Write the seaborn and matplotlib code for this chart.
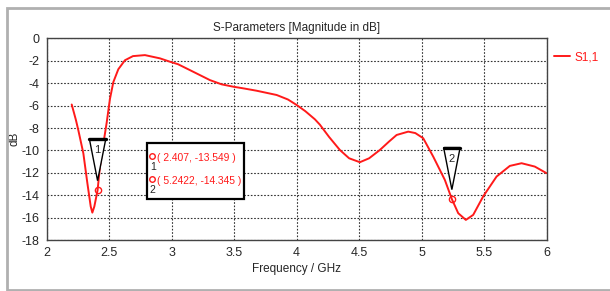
import numpy as np
import pandas as pd
import matplotlib
matplotlib.use("Agg")
import matplotlib.pyplot as plt
import seaborn as sns
from matplotlib.patches import Rectangle, Polygon

# ===============================
# DATA
# ===============================
freq = [2.200, 2.234, 2.253, 2.293, 2.325, 2.352, 2.365, 2.381, 2.407, 2.426,
        2.458, 2.480, 2.506, 2.533, 2.573, 2.626, 2.690, 2.786, 2.906, 2.986,
        3.050, 3.146, 3.306, 3.400, 3.493, 3.580, 3.680, 3.840, 3.930, 4.000,
        4.070, 4.146, 4.186, 4.260, 4.346, 4.420, 4.506, 4.580, 4.666, 4.740,
        4.800, 4.893, 4.950, 5.013, 5.093, 5.186, 5.2422, 5.293, 5.354, 5.413,
        5.493, 5.600, 5.706, 5.800, 5.906, 6.000]
s11 = [-5.90, -7.30, -8.20, -10.25, -12.90, -15.00, -15.55, -15.00, -13.549, -11.45,
       -9.06, -7.50, -5.40, -3.90, -2.75, -1.95, -1.58, -1.49, -1.78, -2.08,
       -2.30, -2.83, -3.72, -4.10, -4.31, -4.47, -4.67, -5.05, -5.45, -5.94,
       -6.50, -7.22, -7.70, -8.80, -9.96, -10.70, -11.05, -10.70, -9.96, -9.20,
       -8.62, -8.32, -8.45, -8.91, -10.55, -12.63, -14.345, -15.60, -16.20, -15.75,
       -14.10, -12.33, -11.38, -11.14, -11.44, -12.03]

marker_ids = ["1", "2"]
marker_x = [2.407, 5.2422]
marker_y = [-13.549, -14.345]

xticks = [2, 2.5, 3, 3.5, 4, 4.5, 5, 5.5, 6]
yticks = [0, -2, -4, -6, -8, -10, -12, -14, -16, -18]

df = pd.DataFrame({"Frequency": freq, "S1,1": s11})

# ===============================
# PLOT
# ===============================
sns.set_style("white")
plt.rcParams["font.family"] = ["Liberation Sans", "DejaVu Sans"]

fig = plt.figure(figsize=(6.1, 2.91), dpi=100)
ax = fig.add_axes([0.0766, 0.175, 0.8194, 0.693])

sns.lineplot(data=df, x="Frequency", y="S1,1", color="#ff1a1a", lw=1.4,
             ax=ax, label="S1,1")

ax.set_xlim(2, 6)
ax.set_ylim(-18, 0)
ax.set_xticks(xticks)
ax.set_xticklabels([f"{t:g}" for t in xticks])
ax.set_yticks(yticks)
ax.set_yticklabels([f"{t:g}" for t in yticks])
ax.tick_params(labelsize=9, length=0, pad=5)
ax.grid(True, color="#333333", linestyle=(0, (1.5, 1.5)), lw=0.8)
for s in ax.spines.values():
    s.set_color("#444444")
    s.set_linewidth(1.0)

ax.set_title("S-Parameters [Magnitude in dB]", fontsize=8.5, pad=5)
ax.set_xlabel("Frequency / GHz", fontsize=8.5, labelpad=3)
ax.set_ylabel("dB", fontsize=8.5, labelpad=1)

# marker triangles and circles
for mid, mx, my in zip(marker_ids, marker_x, marker_y):
    top = my + 4.6
    tip = my + 0.85
    tri = Polygon([[mx - 0.066, top], [mx + 0.066, top], [mx, tip]], closed=True,
                  facecolor="white", edgecolor="black", lw=1.0, zorder=4)
    ax.add_patch(tri)
    ax.plot([mx - 0.066, mx + 0.066], [top, top], color="black", lw=2.4, zorder=5)
    ax.text(mx - 0.005, top - 1.0, mid, fontsize=8, ha="center", va="center", zorder=6)
    ax.plot(mx, my, "o", ms=4.5, mfc="none", mec="#ff1a1a", mew=1.0, zorder=6)

# info box
box = Rectangle((2.80, -14.3), 0.78, 5.0, facecolor="white", edgecolor="black",
                lw=1.6, zorder=5)
ax.add_patch(box)
for i, (mid, mx, my) in enumerate(zip(marker_ids, marker_x, marker_y)):
    yy = -10.5 - 2.05 * i
    ax.plot(2.84, yy, "o", ms=4, mfc="none", mec="#ff1a1a", mew=1.0, zorder=6)
    ax.text(2.848, yy - 0.95, mid, fontsize=7.5, ha="center", va="center", zorder=6)
    ax.text(2.885, yy - 0.15, f"( {mx:g}, {my:g} )", fontsize=7.4, color="#ff1a1a",
            ha="left", va="center", zorder=6)

leg = ax.legend(loc="upper left", bbox_to_anchor=(1.0, 0.97), frameon=False,
                fontsize=8.5, handlelength=1.4, handletextpad=0.4, borderaxespad=0.2)
for t in leg.get_texts():
    t.set_color("#ff1a1a")

# outer gray frame
fig.patches.append(Rectangle((0.011, 0.003), 0.99, 0.968, transform=fig.transFigure,
                             fill=False, edgecolor="#b0b0b0", lw=2.0))

fig.savefig("out.png", dpi=100)
